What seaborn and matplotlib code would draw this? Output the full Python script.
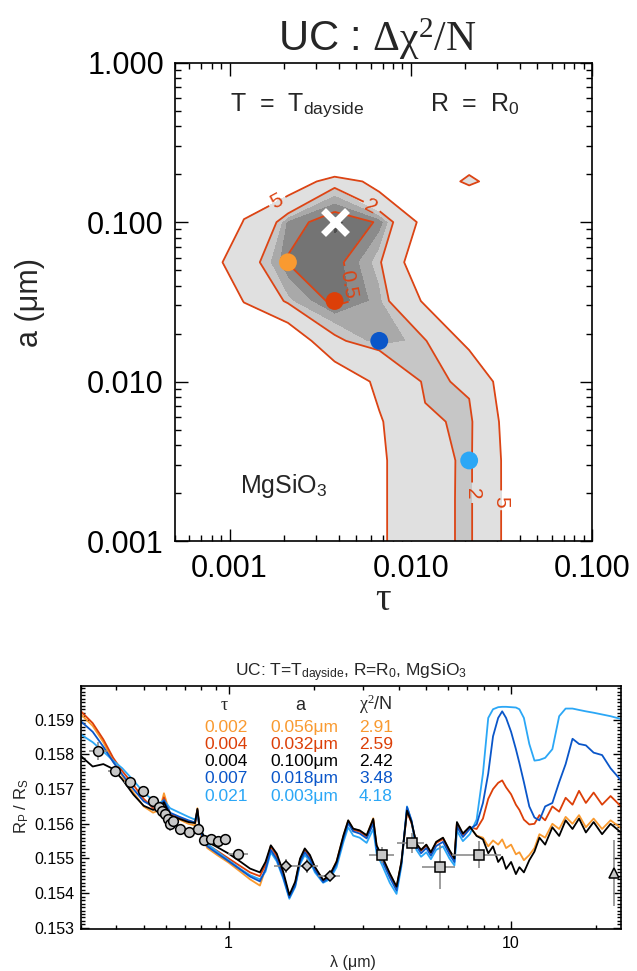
import numpy as np
import pandas as pd
import matplotlib
matplotlib.use("Agg")
import matplotlib.pyplot as plt
from matplotlib import ticker
import seaborn as sns

# ---------------- top panel : delta chi^2 / N over (tau, a) ----------------
tau_grid = [0.00038, 0.00067, 0.0012, 0.0021, 0.0038, 0.0067, 0.012, 0.021, 0.038, 0.067, 0.12]
a_grid = [1.0, 0.56, 0.32, 0.18, 0.10, 0.056, 0.032, 0.018, 0.010, 0.0056, 0.0032, 0.0018, 0.001]
# rows follow a_grid (top to bottom), columns follow tau_grid
dchi2 = [
    [40, 35, 30, 28, 30, 28, 28, 30, 35, 40, 45],
    [35, 30, 25, 22, 28, 24, 22, 25, 30, 35, 40],
    [30, 25, 20, 25, 30, 25, 15, 12, 20, 30, 35],
    [25, 18, 12, 8, 2.5, 7, 8, 4.0, 10, 20, 30],
    [25, 15, 4.6, 0.8, 0.0, 0.6, 6.3, 12, 20, 30, 40],
    [20, 7, 2.66, 0.45, 0.25, 1.8, 8.6, 14, 22, 30, 40],
    [18, 12, 4.8, 1.6, 0.17, 1.3, 5.5, 9, 18, 28, 38],
    [16, 12, 9, 7.1, 2.24, 1.06, 1.9, 6.06, 14, 24, 34],
    [15, 12, 10, 8.5, 7, 4.3, 1.7, 2.3, 8.45, 18, 28],
    [15, 12, 10, 10, 9, 5.2, 2.2, 1.7, 7.5, 16, 26],
    [15, 12, 11, 10, 9, 5.4, 2.4, 1.76, 7.0, 16, 26],
    [15, 12, 11, 10, 9, 5.4, 2.4, 1.75, 7.0, 16, 26],
    [15, 12, 11, 10, 9, 5.4, 2.4, 1.75, 7.0, 16, 26],
]
fill_levels = [0, 0.1, 0.5, 1.0, 1.5, 2.0, 5.0]
fill_colors = ["#4d4d4d", "#747474", "#8b8b8b", "#a9a9a9", "#c6c6c6", "#e0e0e0"]
line_levels = [0.5, 2, 5]
line_color = "#dc4414"
label_spots = [(0.00182, 0.134), (0.0061, 0.128), (0.00504, 0.0414),
               (0.022, 0.00197), (0.0314, 0.00175)]

# the five models (table in lower panel, points in upper panel)
model_names = ["m1", "m2", "m3", "m4", "m5"]
model_tau = ["0.002", "0.004", "0.004", "0.007", "0.021"]
model_a = ["0.056", "0.032", "0.100", "0.018", "0.003"]
model_chi2 = ["2.91", "2.59", "2.42", "3.48", "4.18"]
model_colors = ["#f99a30", "#dc3f08", "#000000", "#0a56c9", "#2ba7f6"]
pt_tau = [0.0021, 0.0038, 0.0038, 0.0067, 0.021]
pt_a = [0.056, 0.032, 0.10, 0.018, 0.0032]

# ---------------- bottom panel : spectra (R in units of 1e-5) ----------------
lam = [0.30, 0.33, 0.36, 0.39, 0.42, 0.46, 0.50, 0.54, 0.57, 0.59,
       0.62, 0.67, 0.72, 0.76, 0.775, 0.79, 0.84, 0.91, 1.00, 1.10,
       1.19, 1.29, 1.35, 1.41, 1.48, 1.56, 1.64, 1.72, 1.79, 1.86,
       1.94, 2.02, 2.16, 2.28, 2.41, 2.55, 2.65, 2.76, 2.91, 3.08,
       3.25, 3.34, 3.52, 3.72, 3.93, 4.09, 4.28, 4.44, 4.62, 4.80,
       5.01, 5.20, 5.43, 5.74, 6.05, 6.30, 6.43, 6.75, 7.14, 7.55,
       7.95, 8.3, 8.63, 9.0, 9.3, 9.6, 10.0, 10.4, 10.7, 11.1,
       11.6, 12.1, 12.6, 13.2, 14.0, 14.8, 15.6, 16.5, 17.4, 18.4,
       19.6, 21.0, 22.5, 24.5]
spec_orange = [15915, 15882, 15835, 15780, 15738, 15690, 15650, 15632, 15640, 15688,
               15628, 15612, 15600, 15595, 15645, 15575, 15530, 15510, 15488, 15462,
               15440, 15422, 15470, 15536, 15505, 15452, 15390, 15428, 15496, 15527,
               15506, 15473, 15437, 15452, 15492, 15566, 15609, 15585, 15580, 15566,
               15616, 15537, 15499, 15456, 15417, 15490, 15637, 15604, 15542, 15524,
               15539, 15517, 15547, 15559, 15523, 15499, 15603, 15571, 15591, 15566,
               15560, 15535, 15552, 15540, 15555, 15530, 15540, 15512, 15518, 15495,
               15510, 15530, 15570, 15560, 15600, 15585, 15620, 15600, 15625, 15590,
               15615, 15585, 15610, 15588]
spec_red = [15924, 15890, 15843, 15790, 15752, 15712, 15672, 15645, 15642, 15676,
            15628, 15618, 15608, 15603, 15640, 15582, 15540, 15522, 15500, 15478,
            15460, 15449, 15482, 15535, 15508, 15455, 15390, 15428, 15495, 15525,
            15505, 15472, 15436, 15450, 15488, 15562, 15605, 15582, 15578, 15563,
            15610, 15534, 15495, 15452, 15414, 15488, 15636, 15602, 15540, 15522,
            15537, 15515, 15545, 15556, 15520, 15497, 15600, 15568, 15590, 15585,
            15615, 15672, 15700, 15718, 15725, 15705, 15685, 15655, 15640, 15612,
            15598, 15600, 15625, 15610, 15650, 15635, 15675, 15655, 15695, 15660,
            15690, 15655, 15680, 15650]
spec_black = [15795, 15765, 15772, 15758, 15728, 15684, 15652, 15640, 15645, 15662,
              15624, 15614, 15605, 15602, 15643, 15586, 15548, 15533, 15514, 15491,
              15471, 15460, 15490, 15538, 15514, 15462, 15395, 15433, 15500, 15529,
              15510, 15476, 15438, 15452, 15491, 15567, 15610, 15586, 15581, 15567,
              15614, 15538, 15500, 15457, 15419, 15491, 15638, 15605, 15543, 15525,
              15540, 15518, 15548, 15560, 15524, 15500, 15605, 15572, 15592, 15565,
              15555, 15515, 15535, 15490, 15505, 15470, 15490, 15455, 15475, 15460,
              15495, 15520, 15560, 15540, 15590, 15565, 15610, 15585, 15615, 15575,
              15605, 15570, 15600, 15575]
spec_blue = [15895, 15865, 15822, 15778, 15742, 15700, 15665, 15650, 15650, 15668,
             15632, 15620, 15610, 15604, 15638, 15580, 15535, 15515, 15492, 15468,
             15448, 15434, 15468, 15525, 15498, 15447, 15388, 15422, 15490, 15518,
             15498, 15466, 15432, 15446, 15484, 15558, 15602, 15578, 15572, 15558,
             15600, 15528, 15488, 15445, 15408, 15486, 15648, 15610, 15536, 15515,
             15530, 15508, 15536, 15548, 15512, 15490, 15592, 15562, 15585, 15598,
             15660, 15745, 15852, 15905, 15924, 15905, 15865, 15815, 15775, 15720,
             15650, 15618, 15610, 15650, 15660, 15720, 15772, 15845, 15830, 15826,
             15805, 15798, 15760, 15725]
spec_lightblue = [15857, 15835, 15808, 15782, 15760, 15725, 15690, 15668, 15660, 15668,
                  15645, 15632, 15620, 15612, 15630, 15590, 15542, 15520, 15495, 15470,
                  15452, 15440, 15462, 15518, 15492, 15442, 15384, 15418, 15484, 15510,
                  15492, 15460, 15430, 15440, 15475, 15548, 15590, 15566, 15560, 15545,
                  15585, 15515, 15475, 15430, 15398, 15478, 15650, 15608, 15525, 15505,
                  15518, 15498, 15525, 15535, 15500, 15480, 15580, 15550, 15570, 15612,
                  15745, 15905, 15930, 15936, 15937, 15937, 15936, 15935, 15930, 15905,
                  15830, 15782, 15784, 15790, 15815, 15910, 15932, 15932, 15928, 15924,
                  15920, 15915, 15910, 15902]

# observed points
circ_lam = [0.345, 0.395, 0.446, 0.497, 0.540, 0.565, 0.583, 0.596, 0.610, 0.618,
            0.633, 0.674, 0.725, 0.776, 0.819, 0.869, 0.920, 0.974, 1.083]
circ_r = [15809, 15752, 15719, 15695, 15667, 15648, 15638, 15629, 15614, 15600,
          15609, 15586, 15576, 15586, 15552, 15555, 15550, 15555, 15514]
circ_dr = [26, 15, 12, 10, 10, 8, 8, 8, 12, 20, 10, 8, 8, 10, 8, 8, 8, 8, 12]
circ_dlam = [0.025, 0.02, 0.02, 0.02, 0.01, 0.01, 0.01, 0.01, 0.01, 0.01,
             0.01, 0.01, 0.01, 0.01, 0.01, 0.01, 0.01, 0.01, 0.09]
diam_lam = [1.59, 1.90, 2.28]
diam_r = [15478, 15478, 15449]
diam_dlam = [0.14, 0.17, 0.20]
diam_dr = [20, 20, 15]
sq_lam = [3.50, 4.44, 5.58, 7.69]
sq_r = [15509, 15545, 15476, 15511]
sq_dlam = [0.35, 0.48, 0.75, 1.5]
sq_dr = [23, 28, 64, 38]
tri_lam = [23.2]
tri_r = [15457]
tri_dr = [95]

# ---------------- style ----------------
sns.set_theme(style="ticks")
plt.rcParams["font.family"] = ["Liberation Sans", "DejaVu Sans"]
plt.rcParams["mathtext.fontset"] = "custom"
plt.rcParams["mathtext.rm"] = "Liberation Serif"
plt.rcParams["mathtext.it"] = "Liberation Serif:italic"
plt.rcParams["mathtext.bf"] = "Liberation Serif:bold"
plt.rcParams["axes.linewidth"] = 1.2
plt.rcParams["axes.edgecolor"] = "black"

W, H = 637, 971
fig = plt.figure(figsize=(W / 100, H / 100), dpi=100)
fig.patch.set_facecolor("white")

def fx(px):
    return px / W

def fy(py):
    return 1 - py / H

# ======== top panel ========
ax1 = fig.add_axes([fx(175), fy(541), fx(592) - fx(175), fy(62.7) - fy(541)])
Z = np.array(dchi2)
ax1.contourf(tau_grid, a_grid, Z, levels=fill_levels, colors=fill_colors)
cs = ax1.contour(tau_grid, a_grid, Z, levels=line_levels, colors=line_color, linewidths=1.3)
ax1.set_xscale("log")
ax1.set_yscale("log")
ax1.set_xlim(0.0005, 0.1)
ax1.set_ylim(0.001, 1.0)
ax1.clabel(cs, manual=label_spots, inline=True, fmt="%g", fontsize=15, inline_spacing=4)

pts = pd.DataFrame({"tau": pt_tau, "a": pt_a, "model": model_names})
circ = pts[pts["model"] != "m3"]
sns.scatterplot(data=circ, x="tau", y="a", hue="model",
                palette=dict(zip(model_names, model_colors)),
                s=165, edgecolor="none", legend=False, ax=ax1, zorder=6)
best = pts[pts["model"] == "m3"]
ax1.plot(best["tau"], best["a"], marker="x", color="white", ms=17, mew=5,
         ls="none", zorder=7)

fmt3 = ticker.FuncFormatter(lambda v, p: f"{v:.3f}")
for axis in (ax1.xaxis, ax1.yaxis):
    axis.set_major_locator(ticker.LogLocator(base=10))
    axis.set_minor_locator(ticker.LogLocator(base=10, subs=np.arange(2, 10)))
    axis.set_major_formatter(fmt3)
    axis.set_minor_formatter(ticker.NullFormatter())
ax1.tick_params(which="both", direction="in", top=True, right=True, width=1.0,
                labelsize=22, colors="black")
ax1.tick_params(which="major", length=9)
ax1.tick_params(which="minor", length=4.5)
ax1.tick_params(axis="x", pad=9)
ax1.tick_params(axis="y", pad=8)
ax1.set_xlabel("")
ax1.set_ylabel("")

ax1.text(0.132, 0.899, r"T  =  T$_{\mathregular{dayside}}$", transform=ax1.transAxes,
         fontsize=18, va="baseline", ha="left")
ax1.text(0.6115, 0.899, r"R  =  R$_{\mathregular{0}}$", transform=ax1.transAxes,
         fontsize=18, va="baseline", ha="left")
ax1.text(0.156, 0.100, r"MgSiO$_{\mathregular{3}}$", transform=ax1.transAxes,
         fontsize=18, va="baseline", ha="left")

fig.text(fx(377), fy(51), r"UC : $\mathrm{\Delta\chi^2/N}$", fontsize=30,
         ha="center", va="baseline")
fig.text(fx(30), fy(302), "a (μm)", fontsize=22, rotation=90, ha="center", va="center")
fig.text(fx(383), fy(600), r"$\mathrm{\tau}$", fontsize=28, ha="center", va="center")

# ======== bottom panel ========
ax2 = fig.add_axes([fx(81), fy(929.3), fx(621) - fx(81), fy(686) - fy(929.3)])

specs = {"m1": spec_orange, "m2": spec_red, "m3": spec_black,
         "m4": spec_blue, "m5": spec_lightblue}
df = pd.concat([pd.DataFrame({"lam": lam, "R": np.array(v) * 1e-5, "model": k})
                for k, v in specs.items()], ignore_index=True)
sns.lineplot(data=df, x="lam", y="R", hue="model",
             hue_order=["m1", "m2", "m5", "m4", "m3"],
             palette=dict(zip(model_names, model_colors)),
             estimator=None, sort=False, linewidth=1.3, legend=False, ax=ax2)

eb = dict(fmt="none", ecolor="#8c8c8c", elinewidth=1.2, capsize=0, zorder=8)
mk = dict(ls="none", mfc="#c8c8c8", mec="black", mew=1.1, zorder=9)
ax2.errorbar(circ_lam, np.array(circ_r) * 1e-5, xerr=circ_dlam,
             yerr=np.array(circ_dr) * 1e-5, **eb)
ax2.plot(circ_lam, np.array(circ_r) * 1e-5, marker="o", ms=7, **mk)
ax2.errorbar(diam_lam, np.array(diam_r) * 1e-5, xerr=diam_dlam,
             yerr=np.array(diam_dr) * 1e-5, **eb)
ax2.plot(diam_lam, np.array(diam_r) * 1e-5, marker="D", ms=5.5, **mk)
ax2.errorbar(sq_lam, np.array(sq_r) * 1e-5, xerr=sq_dlam,
             yerr=np.array(sq_dr) * 1e-5, **eb)
ax2.plot(sq_lam, np.array(sq_r) * 1e-5, marker="s", ms=6.5, **mk)
ax2.errorbar(tri_lam, np.array(tri_r) * 1e-5, yerr=np.array(tri_dr) * 1e-5, **eb)
ax2.plot(tri_lam, np.array(tri_r) * 1e-5, marker="^", ms=7, **mk)

ax2.set_xscale("log")
ax2.set_xlim(0.30, 24.5)
ax2.set_ylim(0.15296, 0.15997)
ax2.xaxis.set_major_locator(ticker.FixedLocator([1, 10]))
ax2.xaxis.set_major_formatter(ticker.FuncFormatter(lambda v, p: f"{v:g}"))
ax2.xaxis.set_minor_locator(ticker.LogLocator(base=10, subs=np.arange(2, 10)))
ax2.xaxis.set_minor_formatter(ticker.NullFormatter())
ax2.yaxis.set_major_locator(ticker.MultipleLocator(0.001))
ax2.yaxis.set_minor_locator(ticker.MultipleLocator(0.0001))
ax2.yaxis.set_major_formatter(fmt3)
ax2.tick_params(which="both", direction="in", top=True, right=True, width=1.0,
                labelsize=11.5, colors="black")
ax2.tick_params(which="major", length=6, pad=5)
ax2.tick_params(which="minor", length=3)
ax2.set_xlabel("")
ax2.set_ylabel("")

fig.text(fx(351), fy(677), r"UC: T=T$_{\mathregular{dayside}}$, R=R$_{\mathregular{0}}$, MgSiO$_{\mathregular{3}}$",
         fontsize=12.5, ha="center", va="baseline")
fig.text(fx(22), fy(806), r"R$_{\mathregular{P}}$ / R$_{\mathregular{S}}$", fontsize=12,
         rotation=90, ha="center", va="center")
fig.text(fx(353), fy(962), "λ (μm)", fontsize=11.5, ha="center", va="center")

# table of models
col_x = [226, 304, 376]
fig.text(fx(224), fy(710), r"$\mathrm{\tau}$", fontsize=13, ha="center", va="baseline")
fig.text(fx(300), fy(710), "a", fontsize=13, ha="center", va="baseline")
fig.text(fx(376), fy(710), r"$\mathrm{\chi^2}$/N", fontsize=13, ha="center", va="baseline")
row_y = [731.5, 749, 766, 783, 800.5]
for i in range(len(model_names)):
    c = model_colors[i]
    fig.text(fx(col_x[0]), fy(row_y[i]), model_tau[i], color=c, fontsize=12.5,
             ha="center", va="baseline")
    fig.text(fx(col_x[1]), fy(row_y[i]), model_a[i] + "μm", color=c, fontsize=12.5,
             ha="center", va="baseline")
    fig.text(fx(col_x[2]), fy(row_y[i]), model_chi2[i], color=c, fontsize=12.5,
             ha="center", va="baseline")

fig.savefig("out.png", dpi=100)
